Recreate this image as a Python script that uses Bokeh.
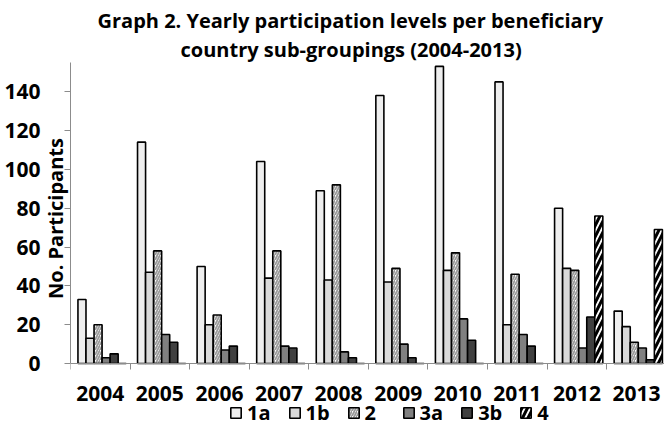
from bokeh.plotting import figure
from bokeh.models import (ColumnDataSource, Range1d, FixedTicker, Title, Legend,
                          LegendItem)
from bokeh.transform import dodge
from bokeh.embed import file_html
from bokeh.resources import INLINE

years = ["2004", "2005", "2006", "2007", "2008", "2009", "2010", "2011", "2012", "2013"]
s_1a = [33, 114, 50, 104, 89, 138, 153, 145, 80, 27]
s_1b = [13, 47, 20, 44, 43, 42, 48, 20, 49, 19]
s_2 = [20, 58, 25, 58, 92, 49, 57, 46, 48, 11]
s_3a = [3, 15, 7, 9, 6, 10, 23, 15, 8, 8]
s_3b = [5, 11, 9, 8, 3, 3, 12, 9, 24, 2]
s_4 = [0, 0, 0, 0, 0, 0, 0, 0, 76, 69]
series_names = ["1a", "1b", "2", "3a", "3b", "4"]
y_ticks = [0, 20, 40, 60, 80, 100, 120, 140]

FONT = "Open Sans"
AXIS_GREY = "#8c8c8c"

centers = [i + 0.5 for i in range(len(years))]
bounds = [float(i) for i in range(len(years) + 1)]

source = ColumnDataSource(dict(x=centers, s1a=s_1a, s1b=s_1b, s2=s_2,
                               s3a=s_3a, s3b=s_3b, s4=s_4))

p = figure(width=664, height=426, output_backend="svg", toolbar_location=None,
           x_range=Range1d(0, 9.97), y_range=Range1d(-32.4, 155), title=None,
           min_border_left=70, min_border_right=0, min_border_top=62,
           min_border_bottom=0)
p.outline_line_color = None
p.xgrid.visible = False
p.ygrid.visible = False
p.background_fill_color = "white"
p.border_fill_color = "white"

styles = [
    dict(fill_color="#eeeeee"),
    dict(fill_color="#d9d9d9"),
    dict(fill_color="white", hatch_pattern="/", hatch_color="#9a9a9a",
         hatch_weight=1.8, hatch_scale=5),
    dict(fill_color="#808080"),
    dict(fill_color="#404040"),
    dict(fill_color="white", hatch_pattern="/", hatch_color="black",
         hatch_weight=3, hatch_scale=11),
]
cols = ["s1a", "s1b", "s2", "s3a", "s3b", "s4"]
step = 0.135
items = []
for k, (col, name, st) in enumerate(zip(cols, series_names, styles)):
    off = (k - 2.5) * step + 0.03
    r = p.vbar(x=dodge("x", off), top=col, width=step, source=source,
               line_color="black", line_width=1.6, **st)
    items.append(LegendItem(label=name, renderers=[r]))

# y axis
yax = p.yaxis[0]
yax.ticker = FixedTicker(ticks=y_ticks)
yax.bounds = (0, 155)
yax.axis_line_color = AXIS_GREY
yax.major_tick_line_color = AXIS_GREY
yax.major_tick_out = 6
yax.major_tick_in = 0
yax.minor_tick_line_color = None
yax.major_label_standoff = 24
yax.major_label_text_font = FONT
yax.major_label_text_font_style = "bold"
yax.major_label_text_font_size = "21px"
yax.major_label_text_color = "black"
# leading no-break spaces lift the visible label to sit beside the 0-155 span
yax.axis_label = "\u00a0" * 10 + "No. Participants"
yax.axis_label_text_font = FONT
yax.axis_label_text_font_style = "bold"
yax.axis_label_text_font_size = "20px"
yax.axis_label_text_color = "black"
yax.axis_label_standoff = -68

# x axis, fixed at y = 0 inside the frame
xax = p.xaxis[0]
xax.fixed_location = 0
xax.ticker = FixedTicker(ticks=centers, minor_ticks=bounds)
xax.major_label_overrides = {c: y for c, y in zip(centers, years)}
xax.axis_line_color = AXIS_GREY
xax.major_tick_line_color = None
xax.major_tick_out = 0
xax.major_tick_in = 0
xax.minor_tick_line_color = AXIS_GREY
xax.minor_tick_out = 6
xax.minor_tick_in = 0
xax.major_label_standoff = 16
xax.major_label_text_font = FONT
xax.major_label_text_font_style = "bold"
xax.major_label_text_font_size = "21px"
xax.major_label_text_color = "black"

# titles
t2 = Title(text="country sub-groupings (2004-2013)", align="left", offset=110,
           text_font=FONT, text_font_style="bold", text_font_size="20px",
           text_color="black", standoff=0)
t1 = Title(text="Graph 2. Yearly participation levels per beneficiary",
           align="left", offset=27, text_font=FONT, text_font_style="bold",
           text_font_size="20px", text_color="black", standoff=0)
p.add_layout(t2, "above")
p.add_layout(t1, "above")

legend = Legend(items=items, orientation="horizontal", location=(159, 0),
                glyph_width=13, glyph_height=13, label_standoff=5, spacing=17,
                padding=0, margin=0, border_line_color=None,
                background_fill_alpha=0, label_text_font=FONT,
                label_text_font_style="bold", label_text_font_size="20px",
                label_text_color="black", label_height=16)
p.add_layout(legend, "center")

open("out.html", "w").write(file_html(p, INLINE))
